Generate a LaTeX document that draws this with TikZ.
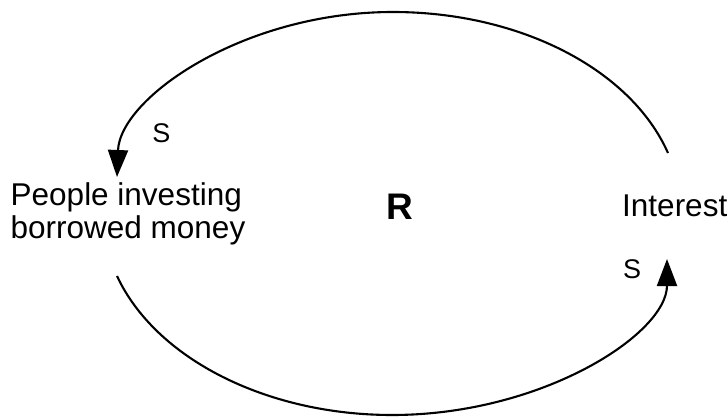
\documentclass[tikz,border=0pt]{standalone}
\usepackage{fontspec}
\setmainfont{Liberation Sans}
\usetikzlibrary{arrows.meta}

\tikzset{
  varlabel/.style={inner sep=0pt, font=\fontsize{31.5pt}{31.5pt}\selectfont},
  polarity/.style={inner sep=0pt, font=\fontsize{27pt}{27pt}\selectfont},
  looplabel/.style={inner sep=0pt, font=\fontsize{37pt}{37pt}\selectfont\bfseries},
  link/.style={line width=2.1pt, -{Triangle[length=27pt,width=20pt]}}
}

\begin{document}
\begin{tikzpicture}[x=1pt,y=1pt]
  \useasboundingbox (0,0) rectangle (727,418);

  % variables
  \node[varlabel, anchor=base west] (people) at (10.5,212)
    {\begin{tabular}[t]{@{}l@{}}People investing\\borrowed money\end{tabular}};
  \node[varlabel, anchor=base west] (interest) at (622,202) {Interest};

  % loop marker and link polarities
  \node[looplabel, anchor=base] (loop) at (400,199) {R};
  \node[polarity, anchor=base] (sTop) at (161.5,275) {S};
  \node[polarity, anchor=base] (sBot) at (632,140) {S};

  % ends of the two links
  \coordinate (interestOut) at (668,265);
  \coordinate (peopleIn)    at (117,241);
  \coordinate (peopleOut)   at (117,142);
  \coordinate (interestIn)  at (667,159);
  \coordinate (topMid)      at (393,406);
  \coordinate (botMid)      at (392,3);

  % Interest -> People investing borrowed money
  \draw[link] (interestOut) .. controls (630.5,349.3) and (519,406) .. (topMid)
              .. controls (243,406) and (120,320) .. (peopleIn);

  % People investing borrowed money -> Interest
  \draw[link] (peopleOut) .. controls (155.7,59) and (267,3) .. (botMid)
              .. controls (542,3) and (667,84) .. (interestIn);
\end{tikzpicture}
\end{document}
